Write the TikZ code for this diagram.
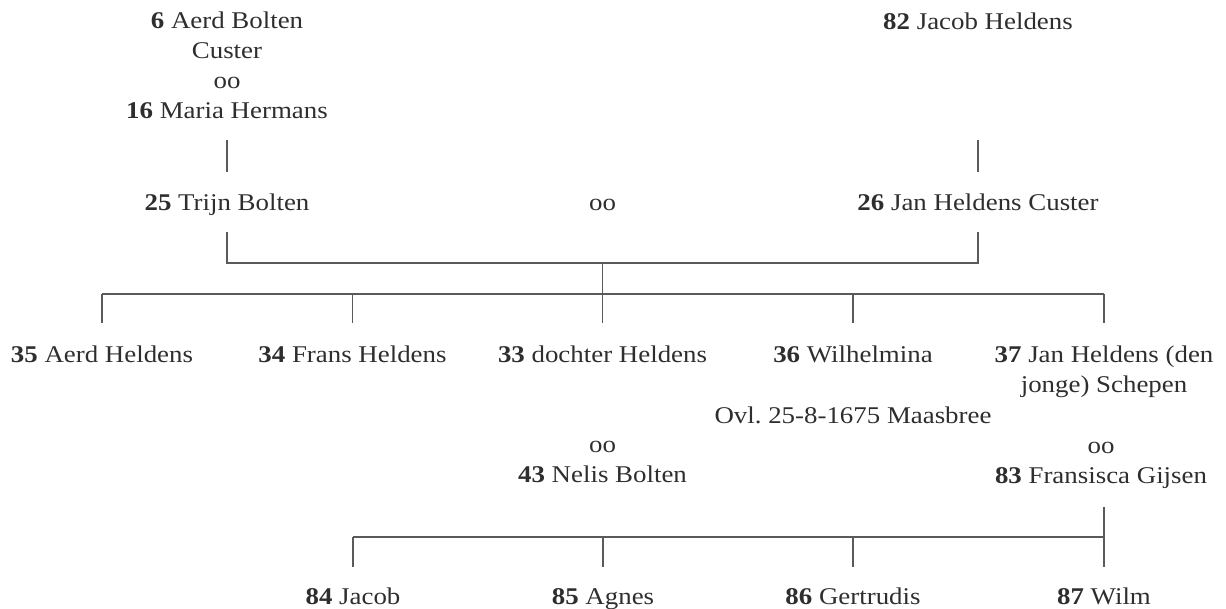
\documentclass[tikz,border=0pt]{standalone}
\usepackage{fontspec}
\setmainfont{Liberation Serif}[FakeStretch=1.12]
\definecolor{txt}{HTML}{2E2E2E}
\definecolor{ln}{HTML}{5A5A5A}
\frenchspacing
\begin{document}
\begin{tikzpicture}[x=1pt,y=-1pt,
  every node/.style={inner sep=0pt, outer sep=0pt, text=txt, font=\fontsize{24}{30}\selectfont},
  person/.style={align=center},
  link/.style={draw=ln, line width=1.3pt}]
\useasboundingbox (0,0) rectangle (1226,609);
% generation 1
\node[person, anchor=south] (p6) at (227,119) {\textbf{6} Aerd Bolten\\Custer\\oo\\\textbf{16} Maria Hermans};
\node[person, anchor=base] (p82) at (978,30) {\textbf{82} Jacob Heldens};
% generation 2
\node[person, anchor=base] (p25) at (227,210.5) {\textbf{25} Trijn Bolten};
\node[anchor=base] (m1) at (602.5,210.5) {oo};
\node[person, anchor=base] (p26) at (978,210.5) {\textbf{26} Jan Heldens Custer};
% generation 3
\node[person, anchor=base] (p35) at (102,362.5) {\textbf{35} Aerd Heldens};
\node[person, anchor=base] (p34) at (352.5,362.5) {\textbf{34} Frans Heldens};
\node[person, anchor=base] (p33) at (602.5,362.5) {\textbf{33} dochter Heldens};
\node[person, anchor=base] (p36) at (853,362.5) {\textbf{36} Wilhelmina};
\node[person, anchor=north] (p37) at (1104,345.8) {\textbf{37} Jan Heldens (den\\jonge) Schepen};
\node[anchor=base] (ovl) at (853,424) {Ovl. 25-8-1675 Maasbree};
\node[person, anchor=south] (p43) at (602.5,483) {oo\\\textbf{43} Nelis Bolten};
\node[person, anchor=south] (p83) at (1101,488.2) {oo\\\textbf{83} Fransisca Gijsen};
% generation 4
\node[person, anchor=base] (p84) at (353,604) {\textbf{84} Jacob};
\node[person, anchor=base] (p85) at (603,604) {\textbf{85} Agnes};
\node[person, anchor=base] (p86) at (853,604) {\textbf{86} Gertrudis};
\node[person, anchor=base] (p87) at (1104,604) {\textbf{87} Wilm};
% junctions
\coordinate (fam1) at (602.5,263);
\coordinate (sib1) at (602.5,294);
\coordinate (fam2) at (1104,537);
% connectors
\draw[link] ([yshift=-21pt]p6.south) -- ([yshift=38.5pt]p25.base);
\draw[link] ([yshift=-110pt]p82.base) -- ([yshift=38.5pt]p26.base);
\draw[link] ([yshift=-21.5pt]p25.base) |- (fam1) -| ([yshift=-21.5pt]p26.base);
\draw[link] (fam1) -- (sib1);
\draw[link] (p35.base |- sib1) -- (p37.north |- sib1);
\foreach \c in {p35,p34,p33,p36}
  \draw[link] (\c.base |- sib1) -- ([yshift=39.5pt]\c.base);
\draw[link] (p37.north |- sib1) -- ([yshift=22.8pt]p37.north);
\draw[link] ([yshift=-19pt]p83.south -| p87.base) -- ([yshift=37pt]p87.base);
\draw[link] (p84.base |- fam2) -- (fam2);
\foreach \c in {p84,p85,p86}
  \draw[link] (\c.base |- fam2) -- ([yshift=37pt]\c.base);
\end{tikzpicture}
\end{document}
